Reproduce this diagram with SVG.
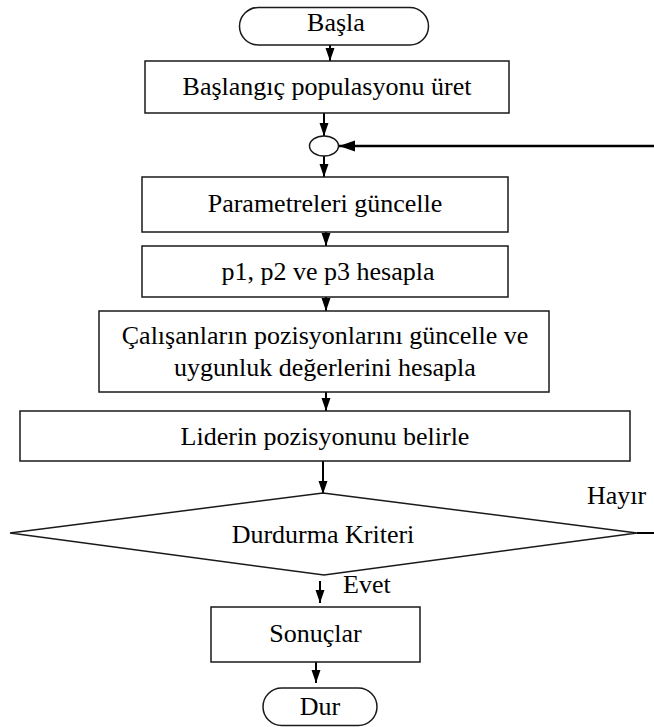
<svg xmlns="http://www.w3.org/2000/svg" width="654" height="727" viewBox="0 0 654 727">
  <defs>
    <style>
      .shape { fill: #ffffff; stroke: #1a1a1a; stroke-width: 1.5; }
      .link { fill: none; stroke: #000000; stroke-width: 2; }
      .loop { fill: none; stroke: #000000; stroke-width: 2.5; }
      .label { font-family: "Liberation Serif", "Times New Roman", serif; font-size: 26px; fill: #000000; text-anchor: middle; }
      .side { font-family: "Liberation Serif", "Times New Roman", serif; font-size: 26px; fill: #000000; text-anchor: start; }
    </style>
    <marker id="arrow" markerUnits="userSpaceOnUse" markerWidth="10" markerHeight="14" refX="10" refY="5" orient="auto">
      <path d="M0,0 L10,5 L0,10 Z" fill="#000000"/>
    </marker>
    <marker id="arrowDown" markerUnits="userSpaceOnUse" markerWidth="13" markerHeight="10" refX="13" refY="5" orient="auto">
      <path d="M0,0.5 L13,5 L0,9.5 Z" fill="#000000"/>
    </marker>
    <marker id="arrowLoop" markerUnits="userSpaceOnUse" markerWidth="16" markerHeight="12" refX="16" refY="6" orient="auto">
      <path d="M0,0.5 L16,6 L0,11.5 Z" fill="#000000"/>
    </marker>
  </defs>

  <!-- connectors -->
  <g id="connectors">
    <line class="link" x1="330" y1="45" x2="330" y2="61" marker-end="url(#arrowDown)"/>
    <line class="link" x1="324" y1="113" x2="324" y2="136" marker-end="url(#arrowDown)"/>
    <line class="link" x1="324" y1="156" x2="324" y2="177" marker-end="url(#arrowDown)"/>
    <line class="link" x1="326" y1="224" x2="326" y2="246" marker-end="url(#arrowDown)"/>
    <line class="link" x1="326" y1="290" x2="326" y2="311" marker-end="url(#arrowDown)"/>
    <line class="link" x1="326" y1="392" x2="326" y2="411" marker-end="url(#arrowDown)"/>
    <line class="link" x1="323" y1="461" x2="323" y2="494" marker-end="url(#arrowDown)"/>
    <line class="link" x1="320" y1="581" x2="320" y2="603" marker-end="url(#arrowDown)"/>
    <line class="link" x1="316" y1="662" x2="316" y2="683" marker-end="url(#arrowDown)"/>
    <!-- loop back from the decision to the merge point -->
    <line class="link" x1="637" y1="533" x2="654" y2="533" stroke-width="1.5"/>
    <line class="loop" x1="654" y1="146" x2="339" y2="146" marker-end="url(#arrowLoop)"/>
  </g>

  <g id="start">
    <rect class="shape" x="239.5" y="7.5" width="189" height="37.5" rx="18.75"/>
    <text class="label" x="336" y="31">Başla</text>
  </g>

  <g id="init">
    <rect class="shape" x="145" y="61" width="364" height="52"/>
    <text class="label" x="327" y="95">Başlangıç populasyonu üret</text>
  </g>

  <g id="merge">
    <ellipse class="shape" cx="324" cy="146" rx="14.5" ry="10"/>
  </g>

  <g id="params">
    <rect class="shape" x="142" y="177" width="366" height="55"/>
    <text class="label" x="325" y="212">Parametreleri güncelle</text>
  </g>

  <g id="probs">
    <rect class="shape" x="142" y="246" width="366" height="51"/>
    <text class="label" x="328" y="280">p1, p2 ve p3 hesapla</text>
  </g>

  <g id="update">
    <rect class="shape" x="99" y="311" width="450" height="81"/>
    <text class="label" x="325" y="344">Çalışanların pozisyonlarını güncelle ve</text>
    <text class="label" x="325" y="376">uygunluk değerlerini hesapla</text>
  </g>

  <g id="leader">
    <rect class="shape" x="20" y="411" width="610" height="50"/>
    <text class="label" x="325" y="445">Liderin pozisyonunu belirle</text>
  </g>

  <g id="decision">
    <polygon class="shape" points="323,493 637,533 324,575 10,533"/>
    <text class="label" x="323" y="543">Durdurma Kriteri</text>
    <text class="side" x="587" y="504">Hayır</text>
    <text class="side" x="343" y="593">Evet</text>
  </g>

  <g id="results">
    <rect class="shape" x="211" y="607" width="209" height="55"/>
    <text class="label" x="315.5" y="642">Sonuçlar</text>
  </g>

  <g id="stop">
    <rect class="shape" x="263" y="688" width="114" height="37.5" rx="18.75"/>
    <text class="label" x="320" y="715">Dur</text>
  </g>
</svg>
